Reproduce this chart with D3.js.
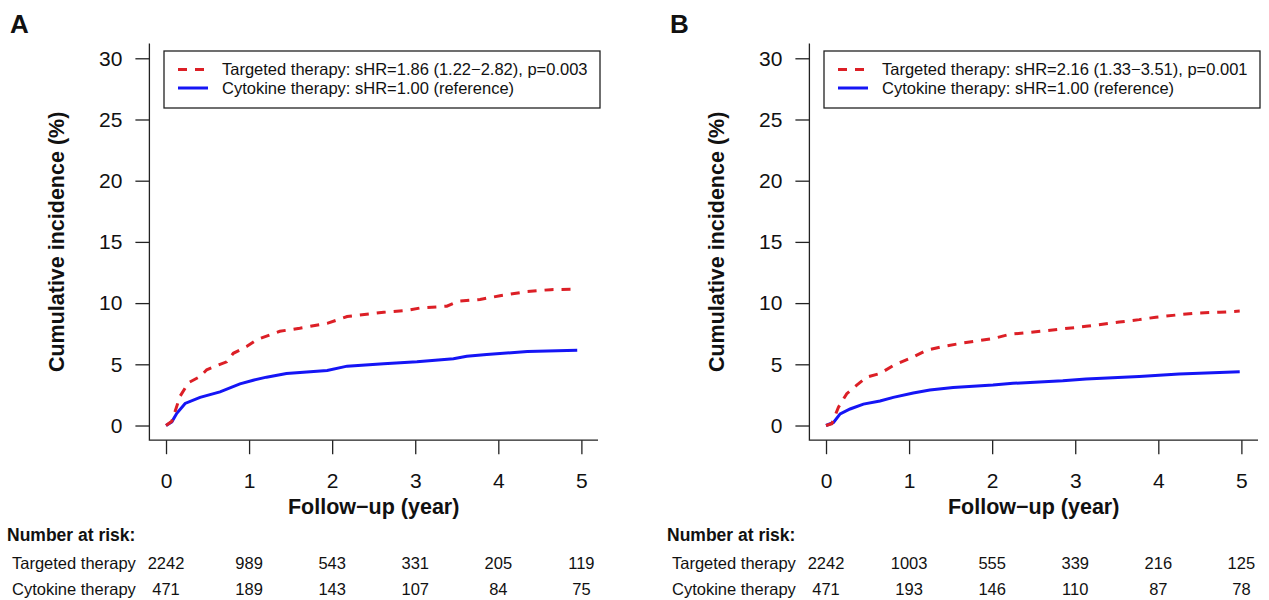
<!DOCTYPE html>
<meta charset="utf-8">
<style>
body { margin: 0; background: #fff; }
svg text { font-family: "Liberation Sans", Arial, sans-serif; fill: #111; }
.axis line, .axis path { stroke: #222; stroke-width: 1.3px; }
.axis text { font-size: 21px; }
.title { font-size: 21.5px; font-weight: bold; }
.risk { font-size: 16.5px; }
.legend text { font-size: 16.5px; }
</style>
<body>
<script src="https://cdn.jsdelivr.net/npm/d3@7"></script>
<script>

var width = 1269,
    height = 600;

// ticks
var xTicks = [0, 1, 2, 3, 4, 5];
var yTicks = [0, 5, 10, 15, 20, 25, 30];

// panel A: cumulative incidence (%)
var timeA_tt = [0, 0.07, 0.17, 0.27, 0.41, 0.49, 0.65, 0.73, 0.81, 0.97, 1.09, 1.37, 1.61, 1.94, 2.18, 2.62, 2.9, 3.06, 3.38, 3.52, 3.78, 4.02, 4.35, 4.63, 4.95];
var cifA_tt  = [0, 0.35, 2.4, 3.5, 4.0, 4.55, 5.0, 5.2, 5.9, 6.45, 7.0, 7.7, 7.95, 8.35, 8.9, 9.25, 9.4, 9.6, 9.75, 10.15, 10.3, 10.6, 10.95, 11.1, 11.15];
var timeA_ck = [0, 0.07, 0.13, 0.23, 0.41, 0.65, 0.89, 1.05, 1.21, 1.45, 1.94, 2.18, 2.62, 3.02, 3.46, 3.62, 3.86, 4.35, 4.95];
var cifA_ck  = [0, 0.3, 1.0, 1.8, 2.3, 2.75, 3.4, 3.7, 3.95, 4.25, 4.5, 4.85, 5.05, 5.2, 5.45, 5.65, 5.8, 6.05, 6.15];

// panel B
var timeB_tt = [0, 0.07, 0.15, 0.25, 0.37, 0.49, 0.65, 0.81, 1.05, 1.21, 1.37, 1.61, 2.01, 2.21, 2.65, 3.13, 3.53, 3.77, 3.97, 4.25, 4.5, 4.74, 4.98];
var cifB_tt  = [0, 0.15, 1.5, 2.6, 3.3, 3.95, 4.25, 4.9, 5.6, 6.15, 6.4, 6.7, 7.1, 7.45, 7.75, 8.1, 8.45, 8.65, 8.85, 9.05, 9.2, 9.25, 9.35];
var timeB_ck = [0, 0.09, 0.17, 0.29, 0.45, 0.65, 0.81, 1.05, 1.25, 1.53, 2.01, 2.25, 2.85, 3.13, 3.77, 4.25, 4.98];
var cifB_ck  = [0, 0.25, 0.95, 1.35, 1.75, 2.0, 2.3, 2.65, 2.9, 3.1, 3.3, 3.45, 3.65, 3.8, 4.0, 4.2, 4.4];

// number at risk
var riskA_tt = [2242, 989, 543, 331, 205, 119];
var riskA_ck = [471, 189, 143, 107, 84, 75];
var riskB_tt = [2242, 1003, 555, 339, 216, 125];
var riskB_ck = [471, 193, 146, 110, 87, 78];

var groups = ["Targeted therapy", "Cytokine therapy"];
var legendA = ["Targeted therapy: sHR=1.86 (1.22\u22122.82), p=0.003", "Cytokine therapy: sHR=1.00 (reference)"];
var legendB = ["Targeted therapy: sHR=2.16 (1.33\u22123.51), p=0.001", "Cytokine therapy: sHR=1.00 (reference)"];

var red = "#dc1f26", blue = "#1515f5";

var svg = d3.select("body").append("svg")
    .attr("width", width)
    .attr("height", height);

svg.append("rect").attr("width", width).attr("height", height).attr("fill", "#fff");

var x = d3.scaleLinear().domain([-0.2, 5.2]).range([149.4, 598]);
var y = d3.scaleLinear().domain([-1.2, 31.2]).range([440.2, 43.6]);

var line = d3.line()
    .x(function(d) { return x(d[0]); })
    .y(function(d) { return y(d[1]); });

function drawPanel(dx, letter, tt, ck, legend, riskTT, riskCK) {
  var g = svg.append("g").attr("transform", "translate(" + dx + ",0)");

  g.append("text").attr("x", 10).attr("y", 33)
    .style("font-size", "26px").style("font-weight", "bold").text(letter);

  // box "l"
  g.append("path").attr("class", "axis")
    .attr("d", "M" + x(-0.2) + "," + y(31.2) + "V" + y(-1.2) + "H" + x(5.2))
    .attr("fill", "none").attr("stroke", "#222").attr("stroke-width", 1.3);

  var ya = g.append("g").attr("class", "axis")
    .attr("transform", "translate(" + x(-0.2) + ",0)")
    .call(d3.axisLeft(y).tickValues(yTicks).tickSize(14).tickPadding(13));
  ya.select(".domain").remove();

  var xa = g.append("g").attr("class", "axis")
    .attr("transform", "translate(0," + y(-1.2) + ")")
    .call(d3.axisBottom(x).tickValues(xTicks).tickSize(14).tickPadding(19)
      .tickFormat(d3.format("d")));
  xa.select(".domain").remove();

  g.append("text").attr("class", "title")
    .attr("transform", "translate(64," + y(15) + ") rotate(-90)")
    .attr("text-anchor", "middle").text("Cumulative incidence (%)");

  g.append("text").attr("class", "title")
    .attr("x", x(2.5)).attr("y", 514)
    .attr("text-anchor", "middle").text("Follow\u2212up (year)");

  // curves
  g.append("path").datum(d3.zip(ck[0], ck[1]))
    .attr("d", line).attr("fill", "none")
    .attr("stroke", blue).attr("stroke-width", 3);
  g.append("path").datum(d3.zip(tt[0], tt[1]))
    .attr("d", line).attr("fill", "none")
    .attr("stroke", red).attr("stroke-width", 3)
    .attr("stroke-dasharray", "9,8");

  // legend
  var lg = g.append("g").attr("class", "legend");
  lg.append("rect").attr("x", 164).attr("y", 51).attr("width", 436).attr("height", 57)
    .attr("fill", "#fff").attr("stroke", "#222").attr("stroke-width", 1.3);
  [[red, "9,8"], [blue, null]].forEach(function(s, i) {
    var ly = 69.5 + i * 18.5;
    lg.append("line").attr("x1", 178).attr("x2", 208).attr("y1", ly).attr("y2", ly)
      .attr("stroke", s[0]).attr("stroke-width", 3)
      .attr("stroke-dasharray", s[1]);
    lg.append("text").attr("x", 222).attr("y", ly + 5.5).text(legend[i]);
  });

  // number at risk
  g.append("text").attr("x", 7).attr("y", 541)
    .style("font-size", "17.5px").style("font-weight", "bold").text("Number at risk:");
  [riskTT, riskCK].forEach(function(r, i) {
    var ry = 569 + i * 25.5;
    g.append("text").attr("class", "risk").attr("x", 12).attr("y", ry).text(groups[i]);
    g.selectAll(null).data(r).enter().append("text")
      .attr("class", "risk")
      .attr("x", function(d, j) { return x(xTicks[j]); })
      .attr("y", ry)
      .attr("text-anchor", "middle")
      .text(function(d) { return d; });
  });
}

drawPanel(0, "A", [timeA_tt, cifA_tt], [timeA_ck, cifA_ck], legendA, riskA_tt, riskA_ck);
drawPanel(660, "B", [timeB_tt, cifB_tt], [timeB_ck, cifB_ck], legendB, riskB_tt, riskB_ck);

</script>
</body>
